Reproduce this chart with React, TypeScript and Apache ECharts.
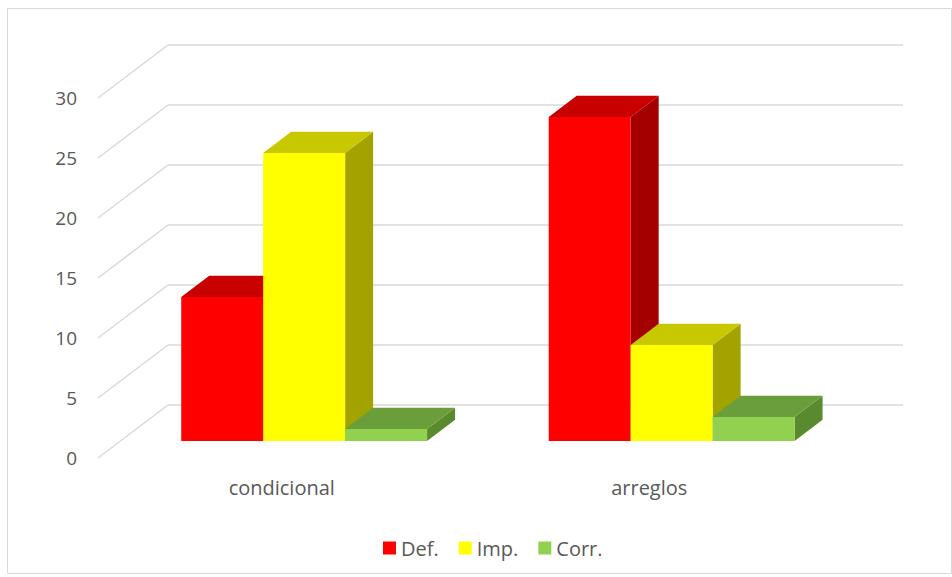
import { useEffect, useRef } from 'react';
import * as echarts from 'echarts';

const categories = ['condicional', 'arreglos'];
const seriesNames = ['Def.', 'Imp.', 'Corr.'];
const defValues = [12, 27];
const impValues = [24, 8];
const corrValues = [1, 2];
const valueTicks = [0, 5, 10, 15, 20, 25, 30];

// Face shades for each series: front, top (lit) and right side (shadowed)
const palette = [
  { front: '#FF0000', top: '#C80000', side: '#A50000' },
  { front: '#FFFF00', top: '#C8C800', side: '#A3A300' },
  { front: '#92D050', top: '#6A9E3A', side: '#5A8A2E' },
];

// Oblique projection of the plot box depth, in pixels
const DEPTH_X = 70;
const DEPTH_Y = -53;
// Where the bars sit inside the box depth (fractions of the full depth)
const BAR_FRONT = 0.32;
const BAR_DEPTH = 0.4;
// Width of one bar as a share of the category band
const BAR_RATIO = 0.223;

const TEXT_COLOR = '#595959';
const GRID_COLOR = '#D9D9D9';
const FONT = '"Open Sans", "Liberation Sans", sans-serif';

function barRenderer(k: number, colors: { front: string; top: string; side: string }) {
  return (params: any, api: any) => {
    const idx = api.value(0);
    const val = api.value(1);
    const base = api.coord([idx, 0]);
    const peak = api.coord([idx, val]);
    const band = api.size([1, 0])[0];
    const bw = band * BAR_RATIO;
    const x0 = base[0] - 1.5 * bw + k * bw + BAR_FRONT * DEPTH_X;
    const x1 = x0 + bw;
    const yb = base[1] + BAR_FRONT * DEPTH_Y;
    const yt = peak[1] + BAR_FRONT * DEPTH_Y;
    const dx = BAR_DEPTH * DEPTH_X;
    const dy = BAR_DEPTH * DEPTH_Y;
    return {
      type: 'group',
      children: [
        {
          type: 'polygon',
          shape: { points: [[x1, yt], [x1, yb], [x1 + dx, yb + dy], [x1 + dx, yt + dy]] },
          style: { fill: colors.side },
        },
        {
          type: 'polygon',
          shape: { points: [[x0, yt], [x1, yt], [x1 + dx, yt + dy], [x0 + dx, yt + dy]] },
          style: { fill: colors.top },
        },
        {
          type: 'rect',
          shape: { x: x0, y: yt, width: bw, height: yb - yt },
          style: { fill: colors.front },
        },
      ],
    };
  };
}

// Side-wall diagonals and back-wall gridlines for every value tick
function wallRenderer(params: any, api: any) {
  const cs = params.coordSys;
  const y = api.coord([0, api.value(1)])[1];
  const lineStyle = { stroke: GRID_COLOR, lineWidth: 1.5, fill: null };
  return {
    type: 'group',
    children: [
      {
        type: 'line',
        shape: { x1: cs.x, y1: y, x2: cs.x + DEPTH_X, y2: y + DEPTH_Y },
        style: lineStyle,
      },
      {
        type: 'line',
        shape: { x1: cs.x + DEPTH_X, y1: y + DEPTH_Y, x2: cs.x + cs.width + DEPTH_X, y2: y + DEPTH_Y },
        style: lineStyle,
      },
    ],
  };
}

export default function App() {
  const ref = useRef<HTMLDivElement>(null);

  useEffect(() => {
    if (!ref.current) return;
    const chart = echarts.init(ref.current, null, { renderer: 'svg' });
    const valueSets = [defValues, impValues, corrValues];

    chart.setOption({
      animation: false,
      backgroundColor: '#FFFFFF',
      graphic: [
        {
          type: 'rect',
          shape: { x: 7.5, y: 8.5, width: 944, height: 565 },
          style: { fill: null, stroke: GRID_COLOR, lineWidth: 1 },
          silent: true,
        },
      ],
      legend: {
        data: seriesNames,
        left: 378,
        top: 533,
        icon: 'rect',
        itemWidth: 13,
        itemHeight: 13,
        itemGap: 20,
        textStyle: { color: TEXT_COLOR, fontSize: 20, fontFamily: FONT },
      },
      grid: { left: 98, right: 119, top: 98, bottom: 119 },
      xAxis: {
        type: 'category',
        data: categories,
        axisLine: { show: false },
        axisTick: { show: false },
        splitLine: { show: false },
        axisLabel: { color: TEXT_COLOR, fontSize: 20, fontFamily: FONT, margin: 19 },
      },
      yAxis: {
        type: 'value',
        min: 0,
        max: 30,
        interval: 5,
        axisLine: { show: false },
        axisTick: { show: false },
        splitLine: { show: false },
        axisLabel: { color: TEXT_COLOR, fontSize: 19, fontFamily: FONT, margin: 21 },
      },
      series: [
        {
          name: 'wall',
          type: 'custom',
          silent: true,
          renderItem: wallRenderer,
          encode: { x: 0, y: 1 },
          data: valueTicks.map((v) => [0, v]),
          z: 1,
        },
        ...seriesNames.map((name, k) => ({
          name,
          type: 'custom',
          renderItem: barRenderer(k, palette[k]),
          itemStyle: { color: palette[k].front },
          encode: { x: 0, y: 1 },
          data: valueSets[k].map((v, i) => [i, v]),
          z: 2 + k,
        })),
      ],
    });

    return () => chart.dispose();
  }, []);

  return (
    <div
      ref={ref}
      style={{ position: 'fixed', left: 0, top: 0, width: 952, height: 577 }}
    />
  );
}
